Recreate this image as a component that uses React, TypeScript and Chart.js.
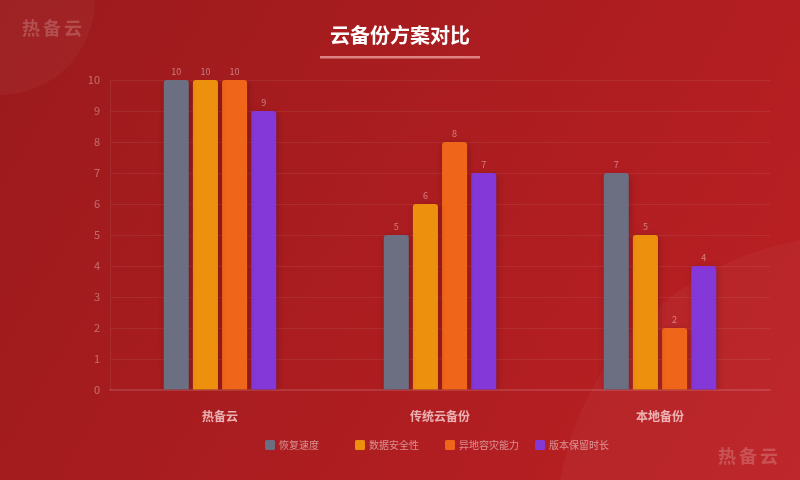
import React, { useEffect, useRef } from "react";
import { Chart, registerables } from "chart.js";

Chart.register(...registerables);

const categories = ["热备云", "传统云备份", "本地备份"];
const seriesNames = ["恢复速度", "数据安全性", "异地容灾能力", "版本保留时长"];
const recoverySpeed = [10, 5, 7];
const dataSafety = [10, 6, 5];
const disasterRecovery = [10, 8, 2];
const versionRetention = [9, 7, 4];
const yTicks = [0, 1, 2, 3, 4, 5, 6, 7, 8, 9, 10];
const colors = ["#6b6f81", "#ec900e", "#ef6519", "#8438d8"];
const title = "云备份方案对比";
const watermark = "热备云";

const FONT = "'Noto Sans CJK SC', 'Noto Sans', sans-serif";

const decorPlugin = {
  id: "decor",
  beforeDraw(chart: any) {
    const { ctx, width, height } = chart;
    ctx.save();
    const g = ctx.createLinearGradient(0, 0, width, height);
    g.addColorStop(0, "#9b1a1c");
    g.addColorStop(1, "#bc2024");
    ctx.fillStyle = g;
    ctx.fillRect(0, 0, width, height);
    ctx.fillStyle = "rgba(255,255,255,0.035)";
    ctx.beginPath();
    ctx.arc(0, 0, 95, 0, Math.PI * 2);
    ctx.fill();
    ctx.beginPath();
    ctx.arc(850, 530, 294, 0, Math.PI * 2);
    ctx.fill();
    // watermarks
    ctx.fillStyle = "rgba(255,255,255,0.2)";
    ctx.font = `bold 18px ${FONT}`;
    ctx.textBaseline = "middle";
    ctx.textAlign = "left";
    const drawSpaced = (text: string, x: number, y: number, sp: number) => {
      let cx = x;
      for (const ch of text) {
        ctx.fillText(ch, cx, y);
        cx += ctx.measureText(ch).width + sp;
      }
    };
    drawSpaced(watermark, 22, 28, 3);
    drawSpaced(watermark, 718, 456, 3);
    // title
    ctx.fillStyle = "#ffffff";
    ctx.font = `bold 20px ${FONT}`;
    ctx.textAlign = "center";
    ctx.fillText(title, 400, 35);
    ctx.fillStyle = "rgba(255,200,200,0.6)";
    ctx.fillRect(320, 56, 160, 2.5);
    ctx.restore();
  },
  beforeDatasetsDraw(chart: any) {
    const ctx = chart.ctx;
    ctx.save();
    ctx.shadowColor = "rgba(0,0,0,0.25)";
    ctx.shadowBlur = 6;
    ctx.shadowOffsetX = 1;
    ctx.shadowOffsetY = 2;
  },
  afterDatasetsDraw(chart: any) {
    const ctx = chart.ctx;
    ctx.restore();
    ctx.save();
    ctx.fillStyle = "rgba(255,255,255,0.42)";
    ctx.font = `9px ${FONT}`;
    ctx.textAlign = "center";
    ctx.textBaseline = "bottom";
    chart.data.datasets.forEach((ds: any, i: number) => {
      const meta = chart.getDatasetMeta(i);
      meta.data.forEach((bar: any, j: number) => {
        ctx.fillText(String(ds.data[j]), bar.x, bar.y - 4);
      });
    });
    // legend
    const area = chart.chartArea;
    const step = 90;
    const total = step * (chart.data.datasets.length - 1) + 80;
    let x = (area.left + area.right) / 2 - total / 2;
    const y = 445;
    ctx.font = `10px ${FONT}`;
    ctx.textAlign = "left";
    ctx.textBaseline = "middle";
    chart.data.datasets.forEach((ds: any) => {
      ctx.fillStyle = ds.backgroundColor;
      ctx.beginPath();
      (ctx as any).roundRect(x, y - 5, 10, 10, 1.5);
      ctx.fill();
      ctx.fillStyle = "rgba(255,255,255,0.5)";
      ctx.fillText(ds.label, x + 14, y + 0.5);
      x += step;
    });
    ctx.restore();
  },
};

export default function App() {
  const ref = useRef<HTMLCanvasElement>(null);
  useEffect(() => {
    document.body.style.margin = "0";
    const series = [recoverySpeed, dataSafety, disasterRecovery, versionRetention];
    const chart = new Chart(ref.current!, {
      type: "bar",
      data: {
        labels: categories,
        datasets: series.map((d, i) => ({
          label: seriesNames[i],
          data: d,
          backgroundColor: colors[i],
          borderRadius: 3,
          borderSkipped: "bottom",
          categoryPercentage: 0.53,
          barPercentage: 0.86,
        })),
      },
      options: {
        animation: false,
        responsive: false,
        devicePixelRatio: 1,
        layout: { padding: { top: 80, right: 30, left: 0, bottom: 0 } },
        plugins: { legend: { display: false }, title: { display: false }, tooltip: { enabled: false } },
        scales: {
          x: {
            grid: { display: false },
            border: { color: "rgba(255,255,255,0.12)", width: 1.5 },
            ticks: {
              color: "rgba(255,225,225,0.75)",
              font: { family: FONT, size: 12, weight: "bold" },
              padding: 11,
            },
            afterFit(scale: any) {
              scale.height = 90;
            },
          },
          y: {
            min: 0,
            max: 10,
            afterBuildTicks(scale: any) {
              scale.ticks = yTicks.map((v) => ({ value: v }));
            },
            grid: { color: "rgba(255,255,255,0.07)", drawTicks: false },
            border: { color: "rgba(255,255,255,0.07)" },
            ticks: {
              color: "rgba(255,255,255,0.35)",
              font: { family: FONT, size: 11 },
              padding: 10,
            },
            afterFit(scale: any) {
              scale.width = 110;
            },
          },
        },
      },
      plugins: [decorPlugin],
    });
    return () => chart.destroy();
  }, []);
  return <canvas ref={ref} width={800} height={480} style={{ display: "block" }} />;
}
